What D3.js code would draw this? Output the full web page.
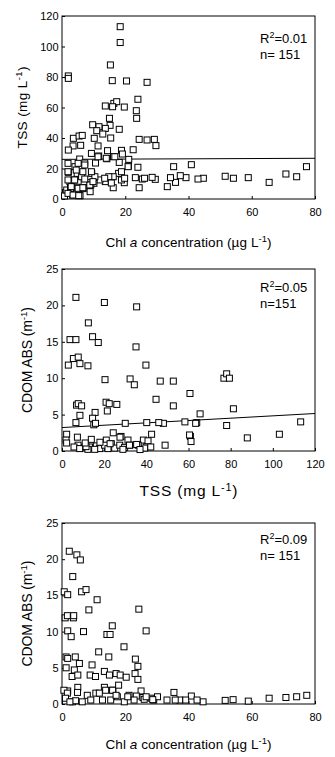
<!DOCTYPE html>
<html>
<head>
<meta charset="utf-8">
<script src="https://cdn.jsdelivr.net/npm/d3@7"></script>
<style>
body { margin: 0; background: #fff; }
svg text { font-family: Arial, "Liberation Sans", sans-serif; fill: #000; }
</style>
</head>
<body>
<svg id="chart" width="335" height="757"></svg>
<script>
// panel 1 : Chl a (x) vs TSS (y)
var chlTss = [[18.4,113],[18.4,102.6],[15.3,87.9],[2.0,80.7],[2.0,79.1],[15.9,77.6],[20.4,77.4],[26.9,76.5],
  [24.0,65.4],[13.7,61],[16.4,62.7],[17.3,63.8],[16.0,60.5],[19.7,60.3],[23.5,57.9],[23.6,52.9],[15.0,52.9],
  [15.2,48.3],[18.1,45.7],[9.7,48.7],[11.7,47.4],[11.0,44.8],[13.7,46.3],[12.9,42.6],[10.2,39.8],[15.4,40],
  [3.6,39.8],[5.4,41.3],[6.4,41.7],[5.9,35.2],[3.5,34.8],[2.0,32.1],[11.4,34.8],[24.4,39.1],[26.9,38.7],
  [29.2,39.1],[29.7,35],[22.5,32.3],[14.4,31.7],[18.8,31.9],[9.3,29.9],[19.1,29.5],[21.1,26],[16.3,27.8],
  [18.1,24],[11.6,28.2],[5.6,26.2],[7.2,23.6],[10.6,23.6],[14.2,26.4],[21.0,21.6],[24.0,20.8],[35.3,21.2],
  [40.9,22.5],[77.3,21.2],[70.8,16.4],[74.2,14.6],[65.5,10.9],[58.9,14],[54.2,13.6],[51.6,14.9],[44.7,13.6],
  [43.0,13.1],[39.2,14],[37.4,15.3],[35.9,10.9],[34.3,14],[33.3,8.1],[29.5,12.9],[28.5,14.2],[25.4,13.1],
  [24.4,7.4],[23.2,14],[19.7,10.7],[17.9,16.8],[16.2,14.6],[16.2,7.4],[13.7,11.4],[12.0,12.5],[10.1,10.3],
  [8.0,10.7],[7.0,11.4],[8.9,4.8],[5.7,2.2],[3.4,2.6],[1.1,4.2],[0.8,2],[1.5,5.9],[2.0,17.5],[4.1,21.2],
  [5.7,19.7],[4.8,16.8],[6.2,14.6],[3.8,12.5],[2.5,11.4],[2.7,7],[4.8,7.7],[6.7,6.8],[9.4,16.8],[9.1,9.2],
  [10.4,14.6],[14.8,14.6],[15.6,10.5],[1.9,3.7],[3.5,2.6],[5.3,2.2],[2.9,8.1],[5.1,7.0],[6.6,7.4],[8.8,9.2],
  [9.8,11.4],[1.9,12.5],[4.0,12.5],[7.2,13.1],[13.5,13.6],[18.8,12.5],[19.8,13.6],[26.1,13.6],[1.9,17.9],
  [4.5,19],[6.6,17.9],[9.3,17.9],[18.8,17.9],[20.9,21.2],[1.9,23.4],[5.1,23.4],[7.2,22.3],[11.4,27.7],
  [14.0,26.7],[16.7,27.7]]
var fitChlTss = [[0, 26.0], [80, 26.7]]

// panel 2 : TSS (x) vs CDOM ABS (y)
var tssCdom = [[6.6,21.1],[20.1,20.4],[35.4,19.8],[12.5,17.6],[3.8,15.3],[6.6,15.3],[14.5,15.7],[17.2,14.9],
  [35.1,14.3],[3.0,11.8],[5.4,12.7],[7.7,12.9],[8.5,12.0],[12.3,11.7],[39.8,11.8],[20.4,9.8],[32.3,9.9],
  [34.3,9.1],[46.6,9.6],[52.8,9.6],[60.7,7.9],[44.6,7.1],[52.8,6.2],[76.8,10.0],[78.1,10.6],[79.4,10.0],
  [81.3,5.8],[65.5,5.1],[113.2,4.0],[103.1,2.3],[87.9,1.8],[78.1,3.5],[63.9,3.9],[58.3,4.0],[63.4,3.8],
  [60.9,2.0],[61.2,1.3],[60.5,2.2],[48.9,0.8],[48.1,3.8],[45.9,3.9],[40.2,3.9],[30.0,3.8],[20.9,6.7],
  [22.4,6.5],[26.0,6.4],[21.5,5.5],[15.7,5.3],[14.5,4.5],[15.1,3.6],[15.9,3.8],[6.9,6.3],[7.7,6.5],
  [9.3,6.2],[8.5,4.9],[6.6,3.9],[7.3,1.9],[2.2,2.3],[1.9,1.5],[42.5,2.3],[38.6,1.5],[40.2,0.6],[24.3,2.5],
  [28.0,2.0],[13.9,1.6],[21.0,1.5],[27.5,1.9],[31.3,1.5],[40.8,1.4],[7.6,0.8],[10.8,0.55],[13.1,0.55],
  [16.3,0.7],[17.9,0.33],[20.2,0.8],[23.4,1.0],[25.0,0.4],[27.4,0.8],[29.7,0.5],[32.1,0.8],[36.1,0.8],
  [39.2,0.4],[42.1,0.55],[5.7,0.55],[8.4,0.33],[12.3,0.23],[15.5,0.23],[21.8,0.33],[28.9,0.23],[2.2,1.1],
  [11.4,0.6],[18.0,1.2],[32.0,0.8],[35.4,0.9],[37.0,0.2],[11.0,1.1],[22.8,1.0]]
var fitTssCdom = [[0, 3.22], [120, 5.15]]

// panel 3 : Chl a (x) vs CDOM ABS (y)
var chlCdom = [[2.3,21.1],[4.7,20.6],[5.8,19.9],[3.4,17.6],[0.7,15.5],[1.8,15.1],[6.2,15.5],[7.6,15.8],
  [11.1,14.4],[1.0,11.9],[1.7,12.2],[3.6,11.9],[3.7,12.2],[8.5,13.0],[24.3,13.1],[1.8,10.1],[2.9,9.3],
  [6.8,10.0],[14.2,9.6],[15.2,9.6],[15.9,10.8],[26.6,10.1],[19.6,7.9],[11.6,7.2],[14.8,6.5],[1.3,6.5],
  [1.8,6.3],[1.3,5.0],[4.2,6.5],[5.5,5.6],[3.9,4.7],[3.2,3.8],[5.0,4.0],[9.5,5.4],[8.9,4.0],[10.6,3.8],
  [13.4,4.5],[15.0,4.0],[17.1,4.2],[18.4,4.0],[20.3,3.7],[23.2,6.2],[24.0,5.2],[23.1,4.2],[24.0,3.4],
  [13.4,2.3],[16.1,1.9],[17.9,2.6],[5.0,2.3],[1.8,1.8],[25.0,1.8],[35.4,1.6],[40.9,1.1],[77.4,1.2],
  [74.2,1.0],[70.8,0.9],[65.5,0.8],[58.9,0.4],[54.1,0.6],[51.6,0.5],[44.6,0.3],[42.7,0.55],[39.1,0.55],
  [37.2,0.55],[35.8,0.55],[33.2,0.55],[29.0,0.55],[28.2,0.8],[25.6,0.9],[23.5,1.1],[0.6,1.9],[1.7,1.5],
  [1.1,0.8],[3.3,0.3],[4.9,1.6],[4.3,0.45],[6.4,0.3],[8.0,1.2],[9.1,0.55],[10.7,1.5],[12.8,0.55],
  [13.8,1.9],[15.4,0.55],[16.0,1.9],[17.5,1.0],[19.7,0.3],[21.2,1.2],[22.8,0.55],[26.0,0.65],[30.2,1.0],
  [2.5,0.3],[11.8,1.5],[17.1,1.2],[20.8,1.0],[26.6,1.0],[28.7,0.6]]

var chlTicks = [0, 20, 40, 60, 80]
var tssTicks = [0, 20, 40, 60, 80, 100, 120]
var cdomTicks = [0, 5, 10, 15, 20, 25]

// label pieces: [text, style] with style "" / "i" (italic) / "sup"
var chlLabel = [["Chl ", ""], ["a", "i"], [" concentration (\u00b5g L", ""], ["-1", "sup"], [")", ""]]
var tssLabel = [["TSS (mg L", ""], ["-1", "sup"], [")", ""]]
var cdomLabel = [["CDOM ABS (m", ""], ["-1", "sup"], [")", ""]]

var r2Values = ["0.01", "0.05", "0.09"]
var nValues = ["n= 151", "n=151", "n= 151"]

var svg = d3.select("#chart")
var left = 62, right = 315

function addLabel(txt, parts){
    var up = false
    parts.forEach(function(p){
        var t = txt.append("tspan").text(p[0])
        if (p[1] == "i") t.style("font-style", "italic")
        if (p[1] == "sup") { t.attr("dy", -5).attr("font-size", "0.7em"); up = true }
        else if (up) { t.attr("dy", 5); up = false }
    })
}

function drawPanel(p){
    var x = d3.scaleLinear().domain([p.xTicks[0], p.xTicks[p.xTicks.length-1]]).range([left, right])
    var y = d3.scaleLinear().domain([p.yTicks[0], p.yTicks[p.yTicks.length-1]]).range([p.bottom, p.top])

    var xAx = svg.append("g")
        .attr("transform", "translate(0," + p.bottom + ")")
        .call(d3.axisBottom(x).tickValues(p.xTicks).tickSizeInner(-3).tickSizeOuter(0).tickPadding(9.5))
    var yAx = svg.append("g")
        .attr("transform", "translate(" + left + ",0)")
        .call(d3.axisLeft(y).tickValues(p.yTicks).tickSizeInner(-3).tickSizeOuter(0).tickPadding(3.5))
    ;[xAx, yAx].forEach(function(a){
        a.attr("font-size", 11).attr("font-family", null)
        a.select(".domain").remove()
        a.selectAll("line").attr("stroke", "#000")
    })

    // frame
    svg.append("rect")
        .attr("x", left).attr("y", p.top)
        .attr("width", right - left).attr("height", p.bottom - p.top)
        .attr("fill", "none").attr("stroke", "#000").attr("stroke-width", 1)

    // regression line
    if (p.fit) {
        svg.append("line")
            .attr("x1", x(p.fit[0][0])).attr("y1", y(p.fit[0][1]))
            .attr("x2", x(p.fit[1][0])).attr("y2", y(p.fit[1][1]))
            .attr("stroke", "#000").attr("stroke-width", 1)
    }

    // points
    svg.append("g").selectAll("rect")
        .data(p.points)
        .enter()
        .append("rect")
        .attr("x", function(d){ return x(d[0]) - 3 })
        .attr("y", function(d){ return y(d[1]) - 3 })
        .attr("width", 6).attr("height", 6)
        .attr("fill", "#fff").attr("stroke", "#000").attr("stroke-width", 1)

    // stats
    var st = svg.append("text").attr("x", 260).attr("y", p.top + p.statDy).attr("font-size", 13)
    st.append("tspan").text("R")
    st.append("tspan").text("2").attr("dy", -5).attr("font-size", 9)
    st.append("tspan").text("=" + p.r2).attr("dy", 5)
    svg.append("text").attr("x", 260).attr("y", p.top + p.statDy + 16).attr("font-size", 13).text(p.n)

    // axis titles
    var xt = svg.append("text").attr("x", (left + right) / 2).attr("y", p.bottom + p.xt.dy)
        .attr("text-anchor", "middle").attr("font-size", p.xt.size)
        .attr("textLength", p.xt.len).attr("lengthAdjust", "spacing")
    addLabel(xt, p.xLabel)
    var yt = svg.append("text")
        .attr("transform", "translate(" + p.yt.x + "," + (p.top + p.bottom) / 2 + ") rotate(-90)")
        .attr("text-anchor", "middle").attr("font-size", p.yt.size)
        .attr("textLength", p.yt.len).attr("lengthAdjust", "spacing")
    addLabel(yt, p.yLabel)
}

drawPanel({top: 16, bottom: 199, xTicks: chlTicks, yTicks: [0, 20, 40, 60, 80, 100, 120],
    points: chlTss, fit: fitChlTss, r2: r2Values[0], n: nValues[0], statDy: 26.5,
    xLabel: chlLabel, yLabel: tssLabel,
    xt: {dy: 47.5, size: 13.5, len: 166}, yt: {x: 26.5, size: 13.5, len: 82}})
drawPanel({top: 269, bottom: 451, xTicks: tssTicks, yTicks: cdomTicks,
    points: tssCdom, fit: fitTssCdom, r2: r2Values[1], n: nValues[1], statDy: 22.5,
    xLabel: tssLabel, yLabel: cdomLabel,
    xt: {dy: 44.5, size: 15.5, len: 98}, yt: {x: 31.5, size: 14, len: 106}})
drawPanel({top: 523, bottom: 704, xTicks: chlTicks, yTicks: cdomTicks,
    points: chlCdom, fit: null, r2: r2Values[2], n: nValues[2], statDy: 20.5,
    xLabel: chlLabel, yLabel: cdomLabel,
    xt: {dy: 44.5, size: 13.5, len: 166}, yt: {x: 31.5, size: 14, len: 106}})
</script>
</body>
</html>
